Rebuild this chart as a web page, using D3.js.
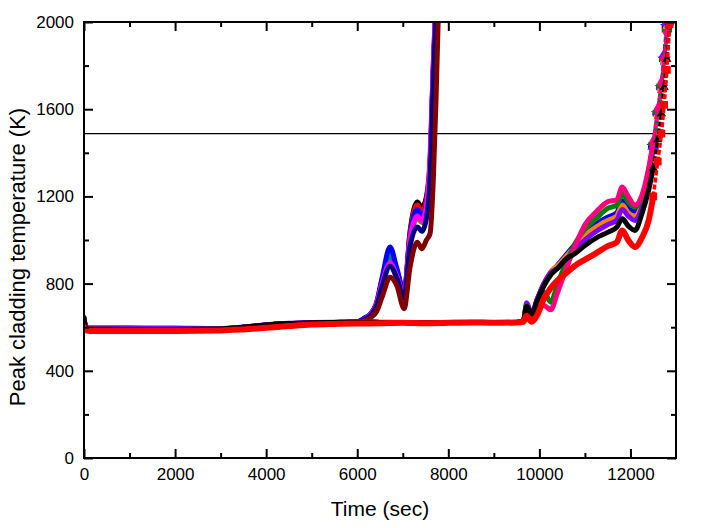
<!DOCTYPE html>
<html>
<head>
<meta charset="utf-8">
<title>Peak cladding temperature</title>
<script src="https://d3js.org/d3.v7.min.js"></script>
<style>
  body { margin: 0; background: #fff; }
  svg text { font-family: "Liberation Sans", Arial, sans-serif; fill: #000; }
  .tick_label { font-size: 17px; }
  .axis_title { font-size: 21px; }
  .y_title { font-size: 22px; }
  .axis path { display: none; }
  .axis line { stroke: #000; stroke-width: 2px; }
</style>
</head>
<body>
<div id="chart_col"></div>

<script>
  // ---- data ----
  const xTicks = [0, 2000, 4000, 6000, 8000, 10000, 12000];
  const yTicks = [0, 400, 800, 1200, 1600, 2000];
  const limitTemp = 1488;

  // group A: runs that heat up around 6500-7800 s
  const timeA = [0, 40, 150, 1000, 2000, 3000, 3500, 4000, 4500, 5000, 5500, 6000,
                 6150, 6300, 6420, 6550, 6720, 6870, 7030, 7160, 7320, 7420, 7520, 7600, 7670, 7730, 7790];
  const runA1 = [645,598,592,590,590,592,600,610,617,620,622,625, 640,662,705,820,945,860,760,1040,1174,1150,1200,1365,1794,2100,2400];
  const runA2 = [640,596,591,590,590,591,599,609,616,619,621,624, 638,660,702,815,935,855,755,1030,1160,1130,1185,1350,1780,2090,2400];
  const runA3 = [642,597,592,591,591,592,600,610,617,620,622,625, 640,663,710,830,968,870,760,1020,1140,1110,1170,1340,1770,2080,2400];
  const runA4 = [638,596,591,590,590,591,599,609,616,619,621,624, 637,660,705,815,932,855,752,1005,1120,1095,1155,1330,1760,2070,2400];
  const runA5 = [640,596,591,590,590,591,599,609,616,619,621,624, 636,658,700,800,905,840,745,990,1100,1080,1140,1320,1750,2060,2400];
  const runA6 = [642,597,592,590,590,591,599,609,616,619,621,624, 636,660,705,805,895,835,748,1010,1110,1090,1160,1380,1810,2120,2400];
  const runA7 = [640,596,591,590,590,591,599,609,616,619,621,624, 634,655,695,790,880,825,735,970,1060,1040,1100,1280,1720,2040,2400];
  const runA8 = [636,594,590,589,589,590,597,607,614,618,620,622, 628,645,670,740,829,790,685,876,990,960,1000,1030,1273,1641,2100];

  // group B: runs that heat up after 9700 s
  const timeB = [0, 40, 150, 1000, 2000, 3000, 3500, 4000, 4500, 5000, 5500, 6000, 6500, 7000, 7500,
                 8000, 8500, 9000, 9500, 9650, 9720, 9830, 9950, 10100, 10250, 10400, 10600, 10800, 11000,
                 11250, 11500, 11700, 11820, 11950, 12100, 12250, 12400, 12500, 12600, 12680, 12740, 12800, 12860, 12940];
  const runB1 = [640,596,591,590,590,592,600,610,617,620,622,623,622,621,620,621,622,621,622,628,
                 695,660,720,790,840,870,915,940,975,1010,1035,1059,1097,1065,1044,1120,1230,1330,1460,1580,1700,1830,2000,2300];
  const runB2 = [600,586,583,583,583,585,590,597,605,612,615,617,618,620,618,620,622,620,622,625,
                 653,625,655,731,780,815,850,885,910,940,972,990,1044,1000,968,1010,1090,1200,1360,1488,1620,1780,1990,2300];
  const runB3 = [642,597,592,590,590,591,599,609,616,619,621,623,622,621,620,621,622,621,622,628,
                 690,650,700,700,680,760,875,980,1070,1130,1175,1185,1243,1200,1160,1205,1330,1450,1600,1720,1830,1950,2060,2300];
  const runB4 = [640,596,591,590,590,591,599,609,616,619,621,623,622,621,620,621,622,621,622,628,
                 700,655,710,760,715,800,900,990,1050,1100,1145,1160,1213,1175,1150,1195,1320,1440,1590,1710,1830,1960,2080,2300];
  const runB5 = [641,597,592,591,591,592,600,610,617,620,622,623,622,621,620,621,622,621,622,628,
                 700,660,725,800,850,885,935,985,1035,1075,1105,1125,1180,1150,1130,1180,1310,1430,1580,1700,1830,1980,2150,2400];
  const runB6 = [640,596,591,590,590,591,599,609,616,619,621,623,622,621,620,621,622,621,622,628,
                 698,655,720,795,855,882,928,975,1020,1060,1090,1110,1160,1125,1110,1165,1300,1420,1570,1690,1820,1970,2140,2400];
  const runB7 = [642,600,597,597,596,594,601,611,618,621,623,624,623,622,621,622,623,622,623,630,
                 712,662,728,800,850,870,912,958,1000,1040,1070,1092,1140,1110,1090,1150,1300,1430,1590,1710,1850,2000,2160,2400];
  const runB8 = [640,596,591,590,590,591,599,609,616,619,621,623,622,621,620,621,622,621,622,628,
                 700,658,722,795,848,880,930,978,1026,1066,1096,1116,1168,1138,1118,1170,1305,1425,1575,1695,1825,1975,2145,2400];

  const series = [
    {time: timeA, temp: runA1, color: "#000000"},
    {time: timeA, temp: runA2, color: "#ff0000"},
    {time: timeA, temp: runA5, color: "#808000"},
    {time: timeA, temp: runA4, color: "#008080"},
    {time: timeA, temp: runA3, color: "#0000ff"},
    {time: timeA, temp: runA6, color: "#ff00ff"},
    {time: timeA, temp: runA7, color: "#000080"},
    {time: timeA, temp: runA8, color: "#800000"},
    {time: timeB, temp: runB8, color: "#000080", sym: d3.symbolCross},
    {time: timeB, temp: runB5, color: "#0000ff", sym: d3.symbolStar},
    {time: timeB, temp: runB6, color: "#ff8000", sym: d3.symbolCircle},
    {time: timeB, temp: runB7, color: "#8000ff", sym: d3.symbolTriangle},
    {time: timeB, temp: runB4, color: "#008000", sym: d3.symbolCross},
    {time: timeB, temp: runB3, color: "#ff0080", sym: d3.symbolDiamond},
    {time: timeB, temp: runB1, color: "#000000", sym: d3.symbolTriangle2},
    {time: timeB, temp: runB2, color: "#ff0000", sym: d3.symbolSquare, wide: true}
  ];

  const tailStart = 12500; // group B turns into scattered symbols above this time

  // chart dimensions and margins
  const margin = {top: 22, right: 27, bottom: 70, left: 84},
    width = 703 - margin.left - margin.right,
    height = 528 - margin.top - margin.bottom;

  const svg = d3.select("#chart_col")
    .append("svg")
      .attr("width", 703)
      .attr("height", 528)
    .append("g")
      .attr("transform", `translate(${margin.left},${margin.top})`);

  const x = d3.scaleLinear().domain([0, 13000]).range([0, width]);
  const y = d3.scaleLinear().domain([0, 2000]).range([height, 0]);

  svg.append("clipPath").attr("id", "plot_clip")
    .append("rect").attr("width", width).attr("height", height);

  const plot = svg.append("g").attr("clip-path", "url(#plot_clip)");

  // limit line
  plot.append("line")
    .attr("x1", 0).attr("x2", width)
    .attr("y1", y(limitTemp)).attr("y2", y(limitTemp))
    .attr("stroke", "#000").attr("stroke-width", 1.2);

  const line = d3.line()
    .x(d => x(d[0]))
    .y(d => y(d[1]))
    .curve(d3.curveMonotoneX);

  series.forEach(s => {
    const pts = s.time.map((t, i) => [t, s.temp[i]]);
    const body = s.sym ? pts.filter(d => d[0] <= tailStart) : pts;

    plot.append("path")
      .datum(body)
      .attr("fill", "none")
      .attr("stroke", s.color)
      .attr("stroke-width", s.wide ? 6 : 5)
      .attr("stroke-linejoin", "round")
      .attr("stroke-linecap", "round")
      .attr("d", line);

    if (s.sym) {
      const tail = pts.filter(d => d[0] >= tailStart);
      plot.append("path")
        .datum(tail)
        .attr("fill", "none")
        .attr("stroke", s.color)
        .attr("stroke-width", 3.5)
        .attr("stroke-dasharray", "5 2")
        .attr("d", line);

      plot.selectAll(null)
        .data(tail)
        .enter()
        .append("path")
          .attr("transform", d => `translate(${x(d[0])},${y(d[1])})`)
          .attr("d", d3.symbol().type(s.sym).size(60))
          .attr("fill", s.color);
    }
  });

  // axes: major and minor ticks, pointing inward on every side
  const minorX = d3.range(1000, 13000, 2000);
  const minorY = d3.range(200, 2000, 400);

  svg.append("g").attr("class", "axis")
    .attr("transform", `translate(0,${height})`)
    .call(d3.axisBottom(x).tickValues(xTicks).tickSize(-9).tickPadding(10).tickFormat(d3.format("d")))
    .selectAll("text").attr("class", "tick_label");
  svg.append("g").attr("class", "axis")
    .attr("transform", `translate(0,${height})`)
    .call(d3.axisBottom(x).tickValues(minorX).tickSize(-5).tickFormat(""));

  svg.append("g").attr("class", "axis")
    .call(d3.axisTop(x).tickValues(xTicks).tickSize(-9).tickFormat(""));
  svg.append("g").attr("class", "axis")
    .call(d3.axisTop(x).tickValues(minorX).tickSize(-5).tickFormat(""));

  svg.append("g").attr("class", "axis")
    .call(d3.axisLeft(y).tickValues(yTicks).tickSize(-9).tickPadding(10).tickFormat(d3.format("d")))
    .selectAll("text").attr("class", "tick_label");
  svg.append("g").attr("class", "axis")
    .call(d3.axisLeft(y).tickValues(minorY).tickSize(-5).tickFormat(""));

  svg.append("g").attr("class", "axis")
    .attr("transform", `translate(${width},0)`)
    .call(d3.axisRight(y).tickValues(yTicks).tickSize(-9).tickFormat(""));
  svg.append("g").attr("class", "axis")
    .attr("transform", `translate(${width},0)`)
    .call(d3.axisRight(y).tickValues(minorY).tickSize(-5).tickFormat(""));

  // frame
  svg.append("rect")
    .attr("width", width).attr("height", height)
    .attr("fill", "none").attr("stroke", "#000").attr("stroke-width", 2);

  // axis titles
  svg.append("text")
    .attr("class", "axis_title")
    .attr("x", width / 2)
    .attr("y", height + 58)
    .attr("text-anchor", "middle")
    .text("Time (sec)");

  svg.append("text")
    .attr("class", "axis_title y_title")
    .attr("transform", `translate(${25 - margin.left},${257 - margin.top})rotate(-90)`)
    .attr("text-anchor", "middle")
    .text("Peak cladding temperature (K)");
</script>
</body>
</html>
